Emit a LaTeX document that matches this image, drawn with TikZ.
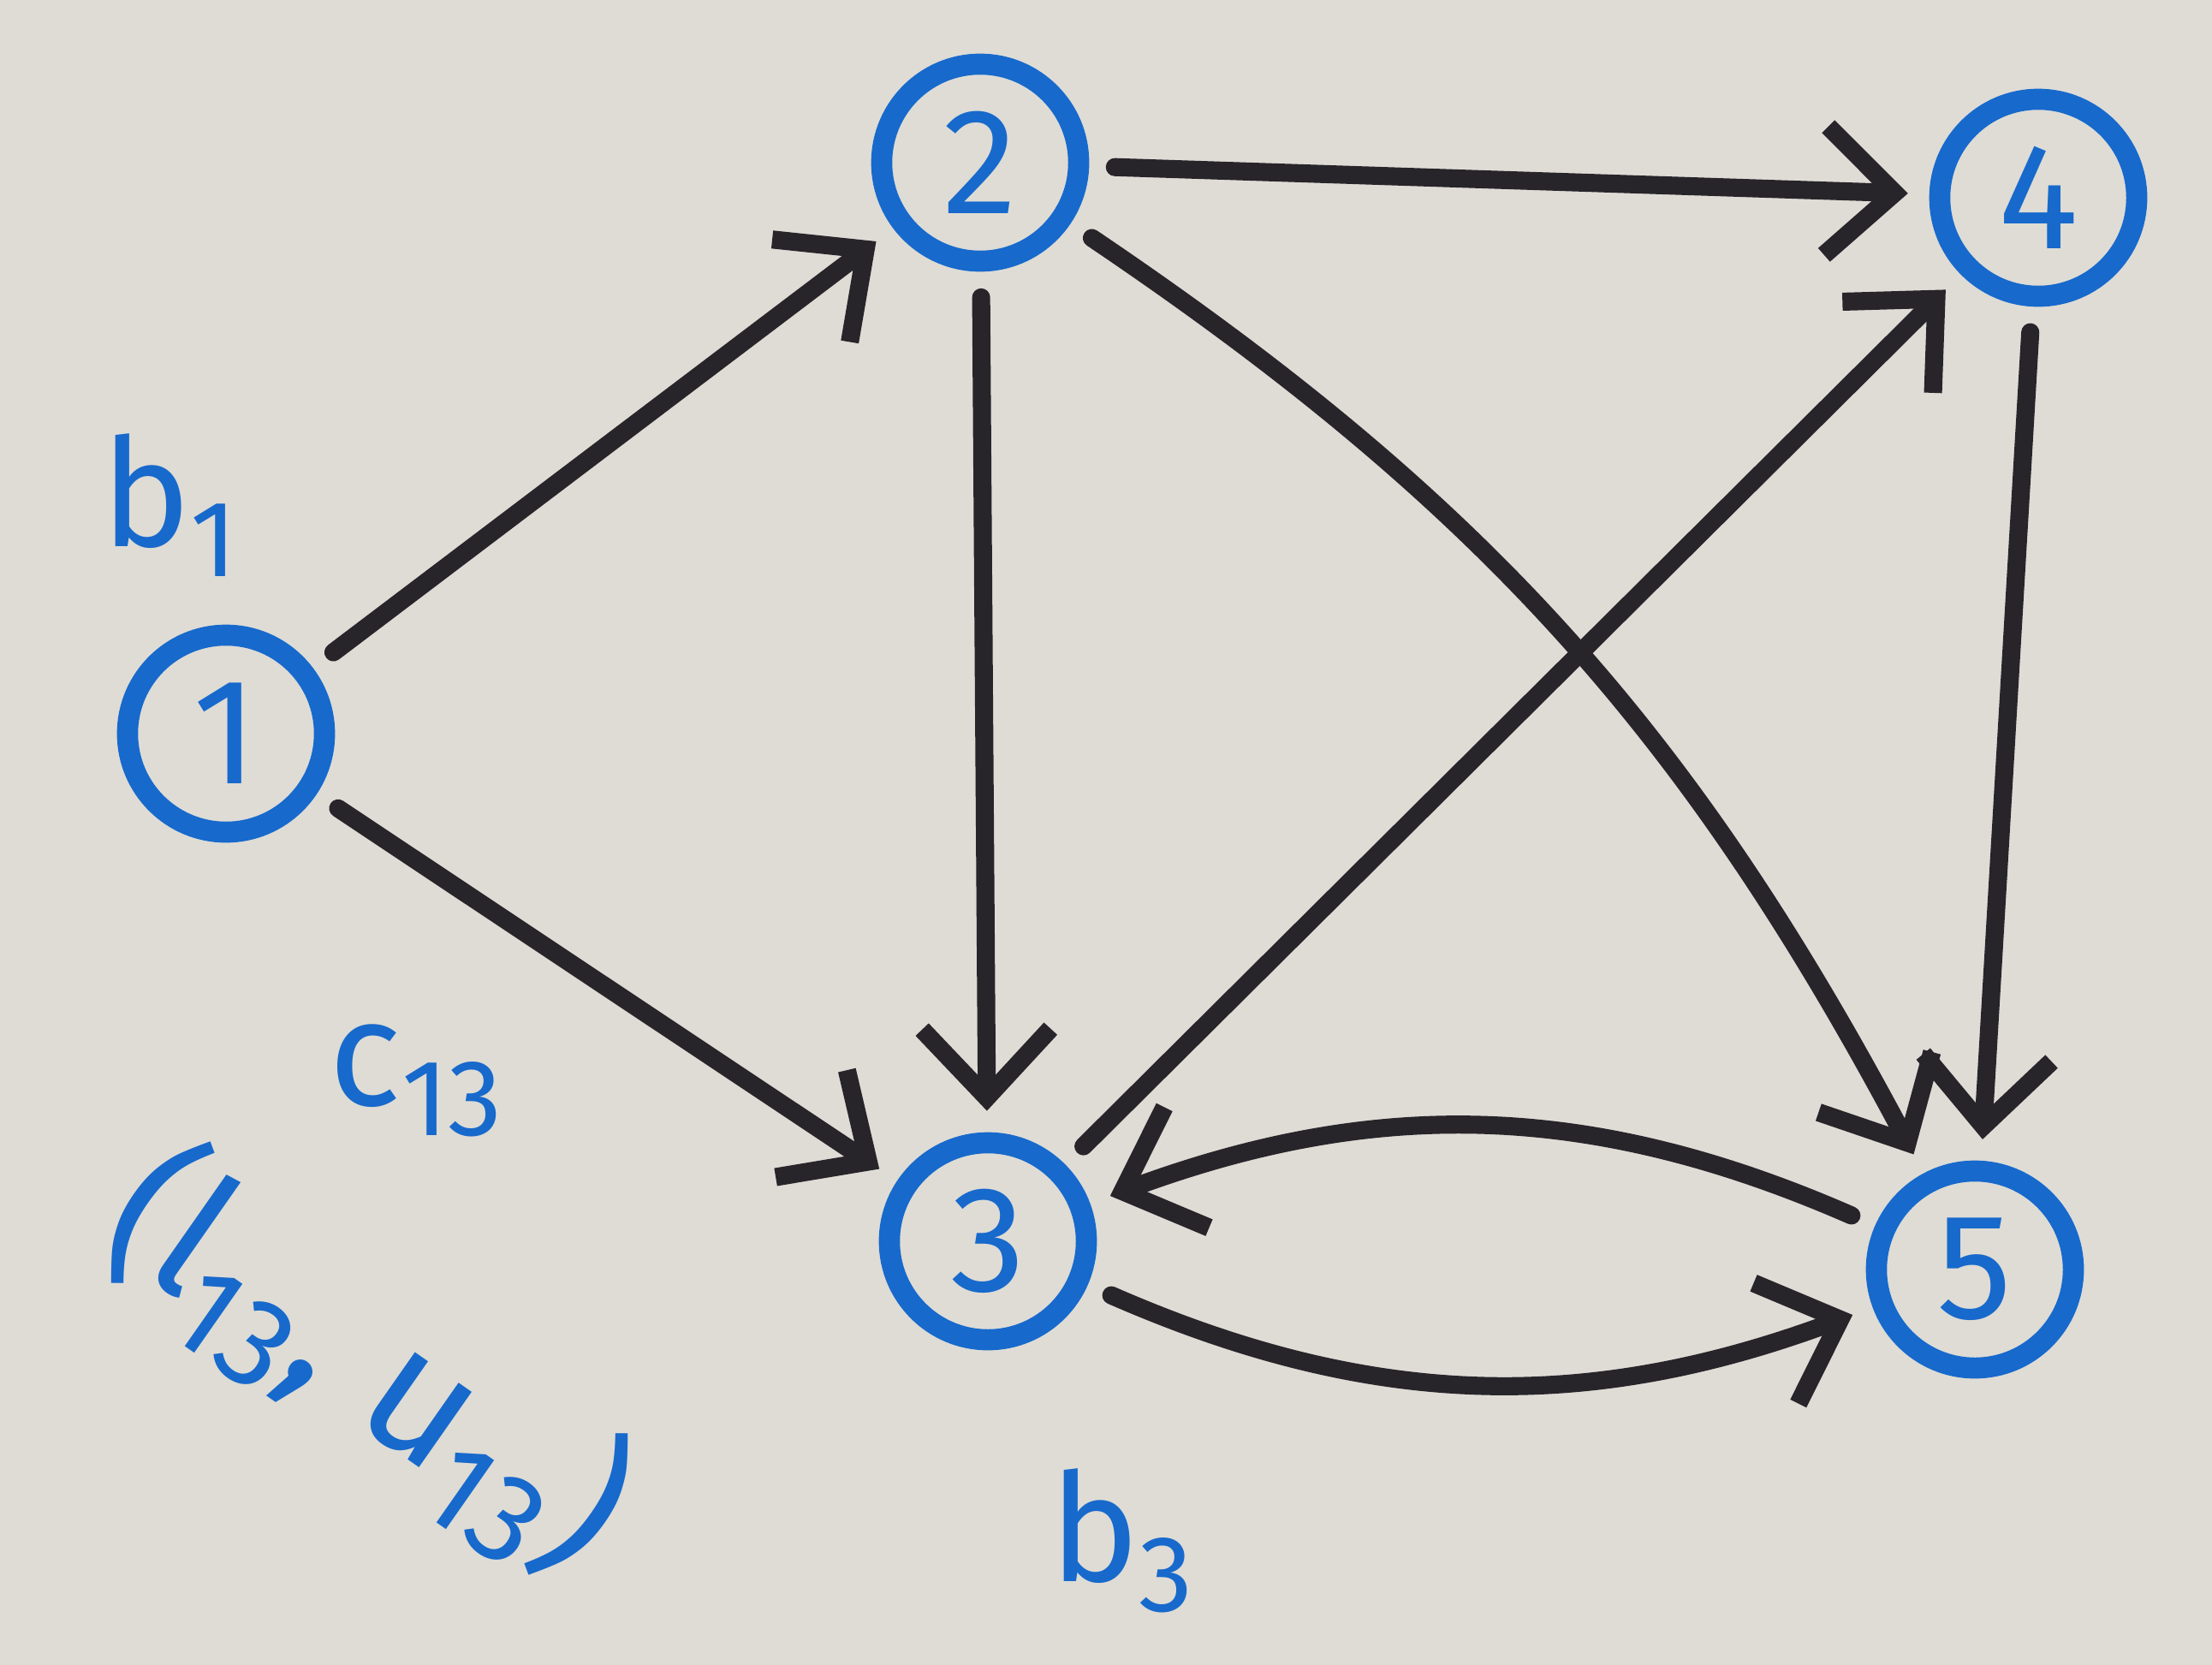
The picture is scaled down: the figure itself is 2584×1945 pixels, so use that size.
\documentclass[tikz,border=0pt]{standalone}
\usepackage{fontspec}
\setmainfont{Fira Sans}
\usepackage{graphicx}
\usepackage{xcolor}
\usetikzlibrary{arrows.meta}
\newcommand{\lowidx}[1]{\raisebox{-0.2em}{\scalebox{0.72}{#1}}}
\definecolor{paperbg}{HTML}{DEDCD5}
\definecolor{penblue}{HTML}{1769CC}
\definecolor{peninkdark}{HTML}{27252A}

\begin{document}
\begin{tikzpicture}[
  x=0.01cm,
  y=-0.01cm,
  every node/.style={penblue},
  vertex/.style={circle, draw=penblue, line width=7pt, minimum size=2.3cm,
                 inner sep=0pt, font=\fontsize{50}{56}\selectfont},
  arc/.style={peninkdark, line width=6pt, line cap=round,
              -{Straight Barb[length=0.8cm, width=1.5cm, line width=6pt]},
              shorten <=0.3cm, shorten >=0.25cm},
  lbl/.style={font=\fontsize{50}{56}\selectfont}
]
  % ---- paper ----
  \fill[paperbg] (0,0) rectangle (2584,1945);
  \useasboundingbox (0,0) rectangle (2584,1945);

  % ---- vertices ----
  \node[vertex] (n1) at (264,857)   {1};
  \node[vertex] (n2) at (1145,190)  {2};
  \node[vertex] (n3) at (1154,1450) {3};
  \node[vertex] (n4) at (2381,231)  {4};
  \node[vertex] (n5) at (2307,1483) {5};

  % ---- supplies and arc data ----
  \node[lbl] (b1) at (198,590)   {b\lowidx{1}};
  \node[lbl] (b3) at (1310,1800) {b\lowidx{3}};
  \node[lbl] (c13) at (486,1262) {c\lowidx{13}};
  \node[lbl, font=\fontsize{58}{64}\selectfont, rotate=-35] (lu13)
    at (428,1592) {(l\lowidx{13}, u\lowidx{13})};

  % ---- arcs ----
  \draw[arc] (n1) -- (n2);
  \draw[arc] (n1) -- (n3);
  \draw[arc] (n2) -- (n3);
  \draw[arc] (n2) -- (n4);
  \draw[arc] (n2) to[out=-34, in=118] (n5);
  \draw[arc] (n3) -- (n4);
  \draw[arc] (n4) -- (n5);
  \draw[arc] (n5) to[bend right=22] (n3);
  \draw[arc] (n3) to[bend right=22] (n5);
\end{tikzpicture}
\end{document}
